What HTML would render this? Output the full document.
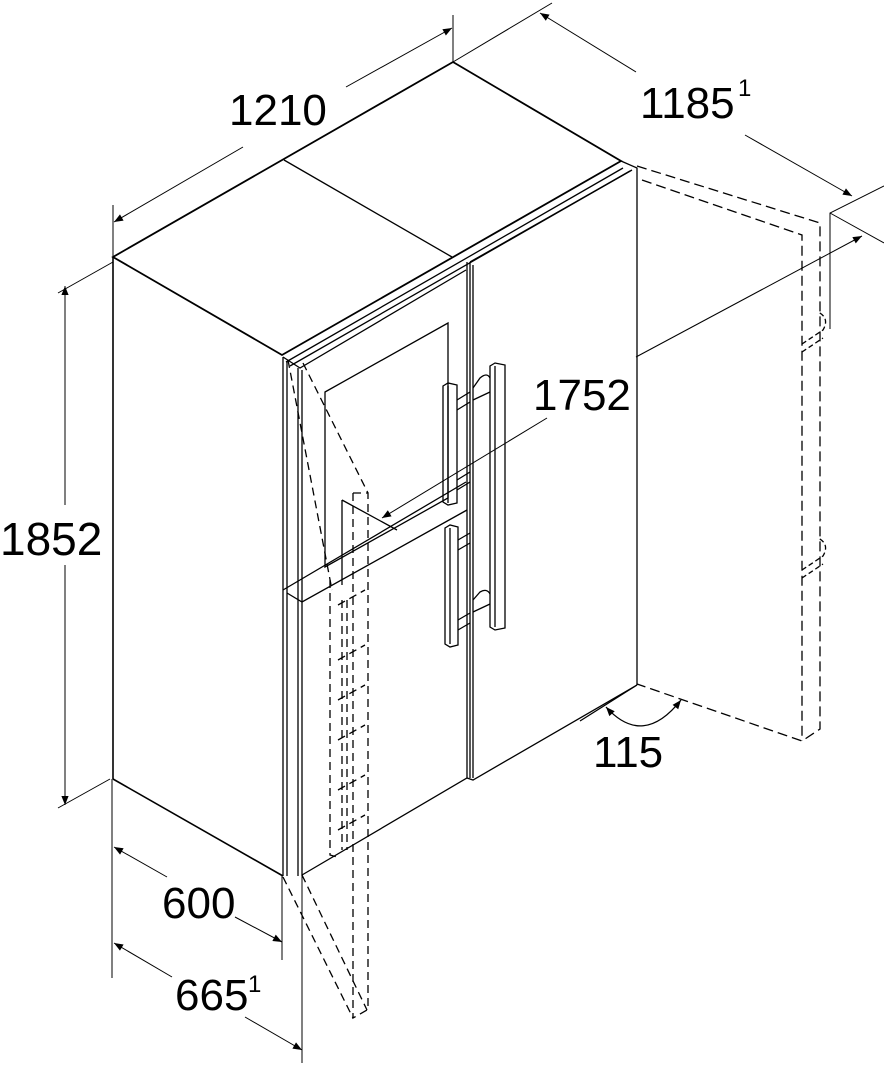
<!DOCTYPE html>
<html><head><meta charset="utf-8"><style>
html,body{margin:0;padding:0;background:#fff;}
svg{display:block;}
text{font-family:"Liberation Sans",Arial,sans-serif;fill:#000;}
</style></head><body>
<svg width="884" height="1072" viewBox="0 0 884 1072" xmlns="http://www.w3.org/2000/svg">
<defs>
<marker id="a" viewBox="0 0 10 10" refX="10" refY="5" markerWidth="14" markerHeight="9" markerUnits="userSpaceOnUse" orient="auto-start-reverse"><path d="M0,1 L10,5 L0,9 z" fill="#000"/></marker>
</defs>
<g stroke="#000" fill="none" stroke-width="1.3">
<path d="M113,257 L453,62 L621,161 L282,355 Z" stroke-width="1.8"/>
<line x1="284" y1="160" x2="452" y2="257"/>
<path d="M286,362 L623,168 M290,366 L630,171" />
<path d="M621,161 L637,168 L637,685"/>
<line x1="113" y1="257" x2="113" y2="779" stroke-width="1.6"/>
<line x1="113" y1="779" x2="283" y2="876" stroke-width="1.6"/>
<path d="M283,357 L283,876 M287,362 L287,876 M298,368 L298,876 M302,370 L302,876"/>
<path d="M283,357 L300,368 L466,270"/>
<path d="M287,593 L302,602 L467,510 M283,590 L466,482"/>
<path d="M325,392 L448,323 L448,498 L325,567 Z"/>
<path d="M342,500 L342,585 M342,500 L397,530"/>
<path d="M467,262 L467,778 M470,262 L470,778 M473,265 L473,778"/>
<path d="M470,262 L632,170"/>
<path d="M302,875 L467,778 L473,780 L637,685"/>
<path d="M443,386 L448,383 L457,385 L457,503 L448,505 L443,502 Z M448,386 L448,503"/>
<path d="M457,400 L470,392 M457,410 L470,402 M457,480 L470,472 M457,490 L470,482"/>
<path d="M490,366 L495,363 L505,365 L505,628 L495,630 L490,627 Z M495,366 L495,627"/>
<path d="M473,388 L480,378 Q487,372 490,378 M473,400 L490,392 M473,612 L490,604 M473,600 L480,592 Q487,588 490,594"/>
<path d="M445,528 L450,525 L458,527 L458,645 L450,647 L445,644 Z M450,528 L450,644"/>
<path d="M458,540 L470,533 M458,550 L470,543 M458,620 L470,613 M458,630 L470,623"/>
<g stroke-dasharray="8 5">
<path d="M288,360 L332,590 M303,363 L368,493"/>
<path d="M353,493 L368,493 L368,1010 M330,580 L330,855 L337,857"/>
<path d="M283,877 L353,1018 M302,875 L367,1010"/>
<path d="M353,493 L353,1018 L367,1010"/>
<path d="M338,605 L365,590 M338,660 L365,645 M338,700 L365,685 M338,740 L365,725 M338,790 L365,775 M338,830 L365,815"/>
<path d="M342,600 L342,850 M347,600 L347,850"/>
</g>
<g stroke-dasharray="10 5">
<path d="M637,166 L820,223 L820,729 L802,741 L637,684"/>
<path d="M642,180 L802,235 L802,741"/>
</g>
<path d="M802,344 L823,330 Q830,318 818,312 M802,352 L823,338 M802,570 L823,556 Q830,544 818,538 M802,578 L823,564" stroke-dasharray="5 3"/>
<line x1="637" y1="685" x2="580" y2="721"/>
<path d="M606,707 Q643,748 681,700" marker-start="url(#a)" marker-end="url(#a)"/>
<line x1="113" y1="205" x2="113" y2="257" stroke-width="1"/>
<line x1="453" y1="15" x2="453" y2="62" stroke-width="1"/>
<line x1="243" y1="147" x2="114" y2="222" marker-end="url(#a)" stroke-width="1"/>
<line x1="346" y1="87" x2="452" y2="28" marker-end="url(#a)" stroke-width="1"/>
<line x1="453" y1="62" x2="552" y2="3" stroke-width="1"/>
<line x1="636" y1="72" x2="540" y2="13" marker-end="url(#a)" stroke-width="1"/>
<line x1="745" y1="135" x2="852" y2="196" marker-end="url(#a)" stroke-width="1"/>
<path d="M830,329 L830,213 L884,186 M830,213 L884,243" stroke-width="1"/>
<line x1="547" y1="418" x2="382" y2="518" marker-end="url(#a)" stroke-width="1"/>
<line x1="636" y1="357" x2="862" y2="236" marker-end="url(#a)" stroke-width="1"/>
<line x1="113" y1="262" x2="58" y2="293" stroke-width="1"/>
<line x1="110" y1="779" x2="58" y2="808" stroke-width="1"/>
<line x1="65" y1="505" x2="65" y2="286" marker-end="url(#a)" stroke-width="1"/>
<line x1="65" y1="565" x2="65" y2="805" marker-end="url(#a)" stroke-width="1"/>
<line x1="112" y1="779" x2="112" y2="978" stroke-width="1"/>
<line x1="282" y1="876" x2="282" y2="960" stroke-width="1"/>
<line x1="302" y1="876" x2="302" y2="1063" stroke-width="1"/>
<line x1="167" y1="877" x2="114" y2="847" marker-end="url(#a)" stroke-width="1"/>
<line x1="235" y1="917" x2="282" y2="942" marker-end="url(#a)" stroke-width="1"/>
<line x1="172" y1="977" x2="114" y2="943" marker-end="url(#a)" stroke-width="1"/>
<line x1="245" y1="1017" x2="302" y2="1050" marker-end="url(#a)" stroke-width="1"/>
</g>
<g font-size="44">
<text x="229" y="125">1210</text>
<text x="640" y="118">1185</text><text x="738" y="96" font-size="24">1</text>
<text x="533" y="410">1752</text>
<text x="0" y="555" font-size="46">1852</text>
<text x="593" y="767">115</text>
<text x="162" y="918">600</text>
<text x="175" y="1010">665</text><text x="248" y="992" font-size="24">1</text>
</g>
</svg>
</body></html>
